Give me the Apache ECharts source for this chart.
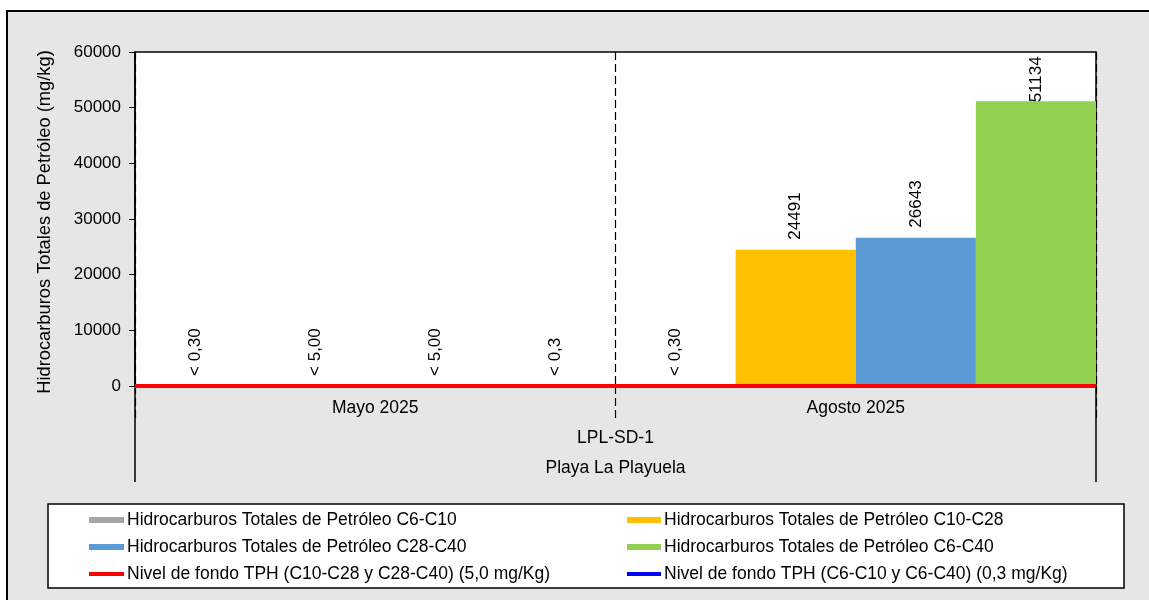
<!DOCTYPE html>
<html>
<head>
<meta charset="utf-8">
<script src="https://cdn.jsdelivr.net/npm/echarts@6/dist/echarts.min.js"></script>
<style>
  html, body { margin: 0; padding: 0; background: #fff; }
  #chart { width: 1149px; height: 600px; }
</style>
</head>
<body>
<div id="chart"></div>
<script>
// datos del gráfico
const categories = ['Mayo 2025', 'Agosto 2025'];
const sampleNames = ['LPL-SD-1'];
const siteNames = ['Playa La Playuela'];

const seriesNames = [
    'Hidrocarburos Totales de Petróleo C6-C10',
    'Hidrocarburos Totales de Petróleo C10-C28',
    'Hidrocarburos Totales de Petróleo C28-C40',
    'Hidrocarburos Totales de Petróleo C6-C40'
];
const lineNames = [
    'Nivel de fondo TPH (C10-C28 y C28-C40) (5,0 mg/Kg)',
    'Nivel de fondo TPH (C6-C10 y C6-C40) (0,3 mg/Kg)'
];

const tphC6C10 = [0.3, 0.3];
const tphC10C28 = [5, 24491];
const tphC28C40 = [5, 26643];
const tphC6C40 = [0.3, 51134];

const labelsC6C10 = ['< 0,30', '< 0,30'];
const labelsC10C28 = ['< 5,00', '24491'];
const labelsC28C40 = ['< 5,00', '26643'];
const labelsC6C40 = ['< 0,3', '51134'];

const fondoC10C40 = [5, 5];
const fondoC6 = [0.3, 0.3];

const yMin = 0;
const yMax = 60000;
const yInterval = 10000;

const barColors = ['#a5a5a5', '#ffc000', '#5b9bd5', '#92d050'];
const FONT = "'Liberation Sans', Arial, sans-serif";

const chart = echarts.init(document.getElementById('chart'), null, { renderer: 'canvas' });

// serie de barras con etiqueta rotada
function barSeries(name, values, labels, color) {
    return {
        name,
        type: 'bar',
        xAxisIndex: 0,
        barGap: '0%',
        barCategoryGap: '0%',
        itemStyle: { color },
        label: {
            show: true,
            position: 'top',
            rotate: 90,
            align: 'left',
            verticalAlign: 'middle',
            distance: 10,
            fontFamily: FONT,
            fontSize: 17,
            color: '#000',
            formatter: p => labels[p.dataIndex]
        },
        // la etiqueta del valor máximo queda recortada dentro del área
        data: values.map(v => v > yMax * 0.8 ? { value: v, label: { distance: -1 } } : v)
    };
}

function lineSeries(name, values, color) {
    return {
        name,
        type: 'line',
        xAxisIndex: 3,
        symbol: 'none',
        lineStyle: { color, width: 4 },
        itemStyle: { color },
        data: values
    };
}

const legendText = { fontFamily: FONT, fontSize: 17.5, color: '#000', padding: [0, 0, 0, -2] };
const lineLegendItem = name => ({
    name,
    itemStyle: { opacity: 0 },
    lineStyle: { width: 4 }
});

const option = {
    backgroundColor: '#ffffff',
    animation: false,
    textStyle: { fontFamily: FONT },
    graphic: [
        {
            type: 'rect',
            z: -10,
            shape: { x: 7, y: 11, width: 1160, height: 610 },
            style: { fill: '#e6e6e6', stroke: '#000', lineWidth: 2 }
        },
        {
            type: 'rect',
            z: -5,
            shape: { x: 48, y: 504, width: 1076, height: 84 },
            style: { fill: '#ffffff', stroke: '#000', lineWidth: 1.5 }
        }
    ],
    grid: {
        left: 135,
        right: 53,
        top: 52,
        bottom: 214,
        outerBoundsMode: 'none',
        show: true,
        backgroundColor: '#ffffff',
        borderColor: '#000',
        borderWidth: 1.5
    },
    legend: [
        {
            orient: 'vertical',
            left: 87,
            top: 511,
            padding: 0,
            itemWidth: 35,
            itemHeight: 6,
            itemGap: 9,
            textStyle: legendText,
            data: [
                { name: seriesNames[0], icon: 'rect' },
                { name: seriesNames[2], icon: 'rect' },
                lineLegendItem(lineNames[0])
            ]
        },
        {
            orient: 'vertical',
            left: 625,
            top: 511,
            padding: 0,
            itemWidth: 34,
            itemHeight: 6,
            itemGap: 9,
            textStyle: legendText,
            data: [
                { name: seriesNames[1], icon: 'rect' },
                { name: seriesNames[3], icon: 'rect' },
                lineLegendItem(lineNames[1])
            ]
        }
    ],
    xAxis: [
        {
            type: 'category',
            position: 'bottom',
            data: categories,
            axisLine: { lineStyle: { color: '#000' } },
            axisTick: {
                show: true,
                alignWithLabel: false,
                length: 32,
                lineStyle: { color: '#000', width: 1.2, type: [8, 4] }
            },
            splitLine: {
                show: true,
                lineStyle: { color: '#000', width: 1.2, type: [8, 4] }
            },
            axisLabel: { fontFamily: FONT, fontSize: 17.5, color: '#000', margin: 13 }
        },
        {
            type: 'category',
            position: 'bottom',
            data: sampleNames,
            axisLine: { show: false },
            axisTick: { show: false },
            axisLabel: { fontFamily: FONT, fontSize: 17.5, color: '#000', margin: 43 }
        },
        {
            type: 'category',
            position: 'bottom',
            data: siteNames,
            axisLine: { show: false },
            axisTick: {
                show: true,
                alignWithLabel: false,
                length: 96,
                lineStyle: { color: '#000', width: 1.5 }
            },
            axisLabel: { fontFamily: FONT, fontSize: 17.5, color: '#000', margin: 73 }
        },
        {
            type: 'category',
            position: 'bottom',
            data: categories,
            boundaryGap: false,
            show: false
        }
    ],
    yAxis: {
        type: 'value',
        min: yMin,
        max: yMax,
        interval: yInterval,
        name: 'Hidrocarburos Totales de Petróleo (mg/kg)',
        nameLocation: 'middle',
        nameGap: 81,
        nameTextStyle: { fontFamily: FONT, fontSize: 18.3, color: '#000', padding: [0, 0, 0, -6] },
        axisLine: { show: true, lineStyle: { color: '#000', width: 1.5 } },
        axisTick: { show: true, length: 6, lineStyle: { color: '#000' } },
        axisLabel: {
            fontFamily: FONT,
            fontSize: 17,
            color: '#000',
            margin: 14,
            formatter: v => String(v)
        },
        splitLine: { show: false }
    },
    series: [
        barSeries(seriesNames[0], tphC6C10, labelsC6C10, barColors[0]),
        barSeries(seriesNames[1], tphC10C28, labelsC10C28, barColors[1]),
        barSeries(seriesNames[2], tphC28C40, labelsC28C40, barColors[2]),
        barSeries(seriesNames[3], tphC6C40, labelsC6C40, barColors[3]),
        lineSeries(lineNames[1], fondoC6, '#0000ff'),
        lineSeries(lineNames[0], fondoC10C40, '#ff0000')
    ]
};

chart.setOption(option);
</script>
</body>
</html>
